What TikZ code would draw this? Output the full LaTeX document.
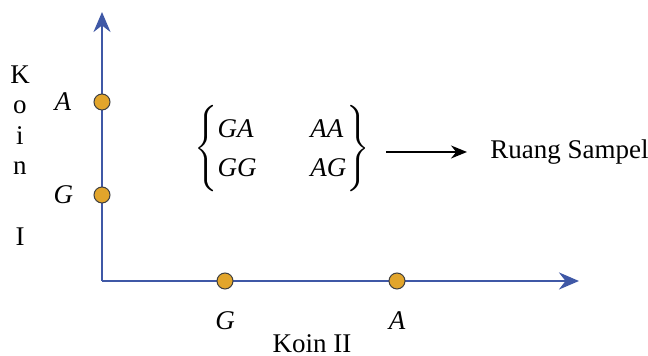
\documentclass[tikz,border=0pt]{standalone}
\usepackage{amsmath}
\usepackage{fontspec}
\setmainfont{Liberation Serif}
\usepackage{tikz}
\usetikzlibrary{positioning, arrows.meta}

\definecolor{axisblue}{HTML}{3F58A6}
\definecolor{dotgold}{HTML}{E2A52B}

\tikzset{
  axis/.style={draw=axisblue, line width=1.3pt, -{Stealth[length=10pt,width=8.5pt]}},
  pt/.style={circle, draw=black!75, fill=dotgold, line width=0.5pt, minimum size=8pt, inner sep=0pt},
  lbl/.style={inner sep=0pt, font=\fontsize{13.5}{15.3}\selectfont\itshape}
}

\begin{document}
\begin{tikzpicture}[x=0.5pt, y=-0.5pt, font=\fontsize{13.5}{15.3}\selectfont]
       \useasboundingbox (0,0) rectangle (648,356);
       \coordinate (O) at (102,281);
       \coordinate (ytip) at (102,12);
       \coordinate (xtip) at (579,281);

       \draw[axis] (O) -- (ytip);
       \draw[axis] (O) -- (xtip);

       \node[pt] (ya) at (102,102) {};
       \node[pt] (yg) at (102,195) {};
       \node[pt] (xg) at (225,281) {};
       \node[pt] (xa) at (397,281) {};

       \node[lbl] (la) [left=11pt of ya] {A};
       \node[lbl] (lg) [left=10pt of yg] {G};
       \node[lbl] (bg) [below=11pt of xg] {G};
       \node[lbl] (ba) [below=11pt of xa] {A};

       \node[align=center, inner sep=0pt, anchor=north] (koin1) at (20,65) {K\\o\\i\\n\\[20pt]I};
       \node (koin2) at (312,344) {Koin II};

       % ruang sampel
       \node (set) at (282,149)
         {$\left\{\renewcommand{\arraystretch}{1.3}\begin{tabular}{@{}l@{\hspace{27pt}}l@{}}
            \itshape GA & \itshape AA\\ \itshape GG & \itshape AG
          \end{tabular}\right\}$};
       \node[anchor=west, inner sep=0pt] (rs) at (490,152) {Ruang Sampel};

       \coordinate (s0) at (386,152);
       \coordinate (s1) at (467,152);
       \draw[line width=1pt, -{Stealth[length=8pt,width=6.5pt]}] (s0) -- (s1);
\end{tikzpicture}
\end{document}
